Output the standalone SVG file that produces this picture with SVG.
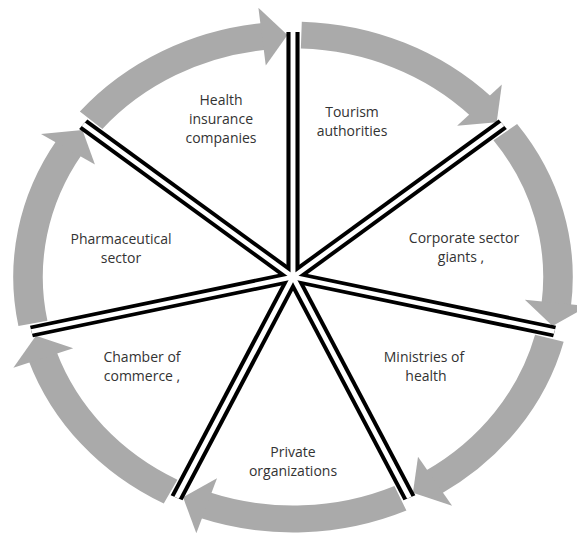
<svg xmlns="http://www.w3.org/2000/svg" xmlns:xlink="http://www.w3.org/1999/xlink" width="577" height="537" viewBox="0 0 577 537">
<style>
.band{fill:none;stroke:#aaaaaa;stroke-width:27}
.head{fill:#aaaaaa}
.db{stroke:#000;stroke-width:12;vector-effect:non-scaling-stroke}
.dw{stroke:#fff;stroke-width:4.5;vector-effect:non-scaling-stroke}
text{font-family:"Open Sans","Liberation Sans",sans-serif;font-size:14px;fill:#333;text-anchor:middle}
</style>
<defs>
<g id="arw">
<path class="band" d="M241.88,7.60 A242,242 0 0 1 170.43,171.81"/>
<polygon class="head" points="192.53,190.72 154.80,186.02 151.32,149.90"/>
</g>
<line id="dl" x1="0" y1="0" x2="245" y2="0"/>
</defs>
<rect width="577" height="537" fill="#fff"/>
<g id="connectors">
<g transform="translate(293,277) scale(1.095,1)">
<use xlink:href="#arw" transform="rotate(-90)"/>
<use xlink:href="#arw" transform="rotate(-38.571)"/>
<use xlink:href="#arw" transform="rotate(12.857)"/>
<use xlink:href="#arw" transform="rotate(64.286)"/>
<use xlink:href="#arw" transform="rotate(115.714)"/>
<use xlink:href="#arw" transform="rotate(167.143)"/>
<use xlink:href="#arw" transform="rotate(218.571)"/>
</g>
<g id="dividers" transform="translate(293,277) scale(1.095,1)">
<g class="db">
<use xlink:href="#dl" transform="rotate(-90)"/>
<use xlink:href="#dl" transform="rotate(-38.571)"/>
<use xlink:href="#dl" transform="rotate(12.857)"/>
<use xlink:href="#dl" transform="rotate(64.286)"/>
<use xlink:href="#dl" transform="rotate(115.714)"/>
<use xlink:href="#dl" transform="rotate(167.143)"/>
<use xlink:href="#dl" transform="rotate(218.571)"/>
</g>
<g class="dw">
<use xlink:href="#dl" transform="rotate(-90)"/>
<use xlink:href="#dl" transform="rotate(-38.571)"/>
<use xlink:href="#dl" transform="rotate(12.857)"/>
<use xlink:href="#dl" transform="rotate(64.286)"/>
<use xlink:href="#dl" transform="rotate(115.714)"/>
<use xlink:href="#dl" transform="rotate(167.143)"/>
<use xlink:href="#dl" transform="rotate(218.571)"/>
</g>
<circle cx="0" cy="0" r="5" fill="#fff"/>
</g>
</g>
<g id="health-insurance"><text x="221" y="105">Health</text><text x="221" y="124">insurance</text><text x="221" y="143">companies</text></g>
<g id="tourism"><text x="352" y="117">Tourism</text><text x="352" y="136">authorities</text></g>
<g id="corporate"><text x="464" y="243">Corporate sector</text><text x="461" y="262">giants ,</text></g>
<g id="ministries"><text x="424" y="362">Ministries of</text><text x="426" y="381">health</text></g>
<g id="private"><text x="293" y="457">Private</text><text x="293" y="476">organizations</text></g>
<g id="chamber"><text x="142" y="362">Chamber of</text><text x="142" y="381">commerce ,</text></g>
<g id="pharma"><text x="121" y="244">Pharmaceutical</text><text x="121" y="263">sector</text></g>
</svg>
